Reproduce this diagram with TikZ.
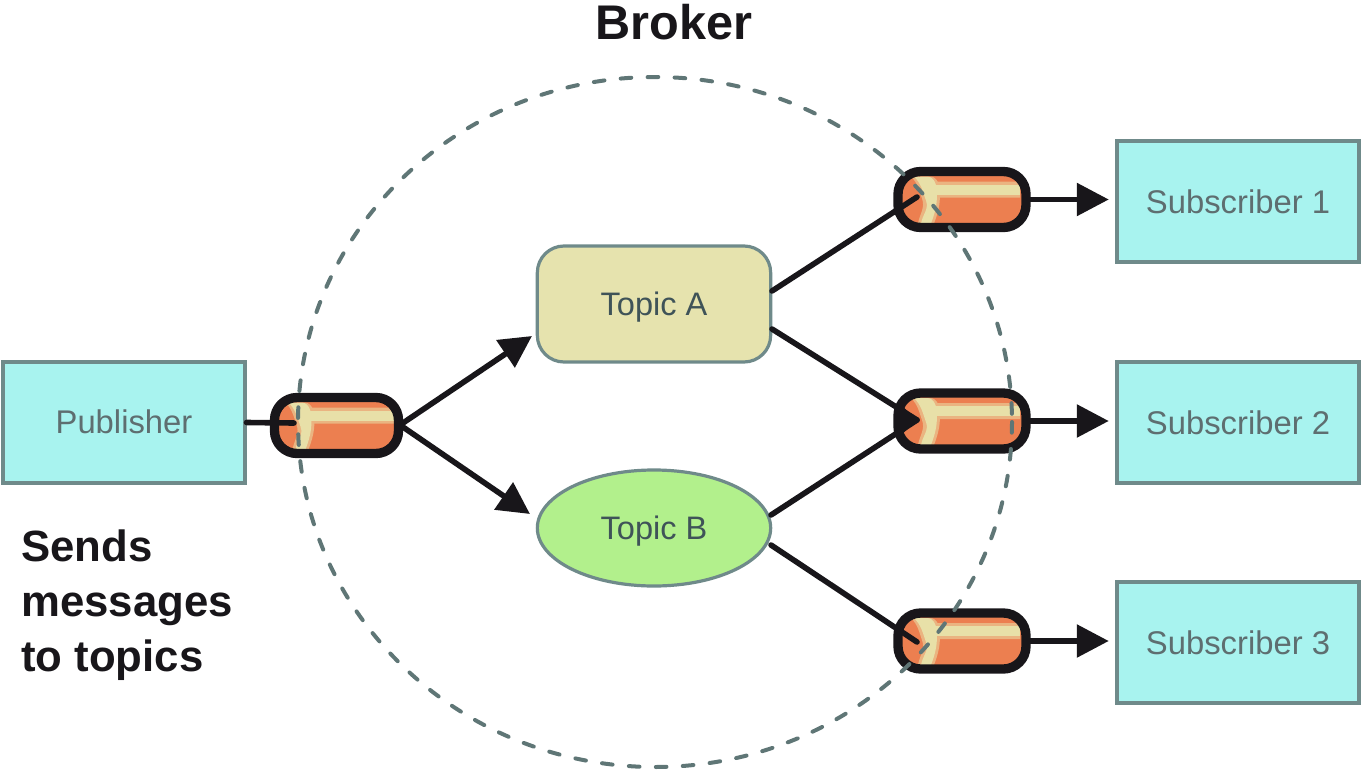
\documentclass[tikz,border=0pt]{standalone}
\usepackage{fontspec}
\setmainfont{Liberation Sans}
\usetikzlibrary{shapes.geometric,arrows.meta}
\definecolor{boxcyan}{HTML}{A8F3EF}
\definecolor{boxedge}{HTML}{6F8A8A}
\definecolor{topica}{HTML}{E6E3AE}
\definecolor{topicb}{HTML}{B2F08C}
\definecolor{capsule}{HTML}{EC7F50}
\definecolor{shine}{HTML}{E8E0A8}
\definecolor{ink}{HTML}{18161A}
\definecolor{dash}{HTML}{5F7676}
\definecolor{lbl}{HTML}{5E6E70}
\definecolor{lbltopic}{HTML}{3F5358}
\newcommand{\lift}[1]{\raisebox{-8.5pt}[0pt][0pt]{#1}}
\newcommand{\liftb}[1]{\raisebox{-9pt}[0pt][0pt]{#1}}
\tikzset{
  x=0.75pt,y=-0.75pt,
  actorbox/.style={draw=boxedge,line width=2.8pt,fill=boxcyan,minimum width=181pt,minimum height=90.5pt,inner sep=0pt,font=\fontsize{24.6pt}{26pt}\selectfont,text=lbl},
  topicshape/.style={draw=boxedge,line width=2.4pt,inner sep=0pt,font=\fontsize{24.4pt}{26pt}\selectfont,text=lbltopic},
  capsulebody/.style={fill=capsule,rounded corners=16pt,minimum height=42pt,inner sep=0pt,outer sep=0pt},
  capsuleedge/.style={draw=ink,line width=7pt,rounded corners=17pt},
  flow/.style={draw=ink,line width=4.2pt,line cap=round},
  flowtip/.style={draw=ink,line width=4.2pt,-{Triangle[length=24pt,width=24pt]}},
  flowend/.style={flowtip,shorten >=5pt},
  heading/.style={font=\bfseries\fontsize{36.5pt}{40pt}\selectfont,text=ink,inner sep=0pt},
  sidenote/.style={font=\bfseries\fontsize{32.8pt}{41.2pt}\selectfont,text=ink,inner sep=0pt,align=left},
  brokerline/.style={draw=dash,line width=3pt,line cap=round,dash pattern=on 8pt off 12.25pt},
}
\newcommand{\capsuleshine}[3]{%
  \fill[capsule!45!shine] (#2-28,#3-18) -- (#2+58,#3-18) -- (#2+58,#3-2) -- (#2-26,#3-2) -- cycle;
  \fill[capsule!45!shine] (#2-51,#3-23) -- (#2-32,#3-23) to[out=0,in=90] (#2-22,#3-6) to[out=-90,in=70] (#2-28,#3+24)
     -- (#2-44,#3+24) to[out=80,in=-70] (#2-40,#3-1) to[out=110,in=-45] cycle;
  \fill[shine] (#2-27,#3-15) -- (#2+58,#3-15) -- (#2+58,#3-5) -- (#2-27,#3-5) -- cycle;
  \fill[shine] (#2-48,#3-23) -- (#2-35,#3-23) to[out=0,in=90] (#2-25,#3-6) to[out=-90,in=70] (#2-31,#3+24)
     -- (#2-41,#3+24) to[out=80,in=-70] (#2-36,#3+1) to[out=110,in=-45] cycle;
  \draw[capsuleedge] (#1.north west) rectangle (#1.south east);
}
\begin{document}
\begin{tikzpicture}
\useasboundingbox (0,0) rectangle (1363,771);
\node[actorbox] (pub) at (124,422.5) {\lift{Publisher}};
\node[actorbox] (s1) at (1238,201.5) {\liftb{Subscriber 1}};
\node[actorbox] (s2) at (1238,422.5) {\liftb{Subscriber 2}};
\node[actorbox] (s3) at (1238,642.5) {\liftb{Subscriber 3}};
\node[topicshape,fill=topica,rounded corners=20pt,minimum width=175pt,minimum height=87pt] (ta) at (654,304) {\lift{Topic A}};
\node[topicshape,fill=topicb,ellipse,minimum width=175pt,minimum height=87pt] (tb) at (654,528) {\lift{Topic B}};

\node[capsulebody,minimum width=93pt] (cp) at (336.5,425.5) {};
\node[capsulebody,minimum width=96pt] (c1) at (962,199.5) {};
\node[capsulebody,minimum width=96pt] (c2) at (962,421) {};
\node[capsulebody,minimum width=96pt] (c3) at (962,641) {};
\capsuleshine{cp}{336.5}{425.5}
\capsuleshine{c1}{962}{199.5}
\capsuleshine{c2}{962}{421}
\capsuleshine{c3}{962}{641}

\coordinate (cpin) at (294,423);
\coordinate (cpout) at (400,425);
\coordinate (c1in) at (917,197);
\coordinate (c2in) at (917,420);
\coordinate (c3in) at (917,642);
\coordinate (taa) at (532,336);
\coordinate (tba) at (530,514);
\coordinate (tar) at (772,291);
\coordinate (tarb) at (772,329);
\coordinate (tbr) at (771,515);
\coordinate (tbrb) at (771,545);

\draw[flow] (pub.east) -- (cpin);
\draw[flowtip] (cpout) -- (taa);
\draw[flowtip] (cpout) -- (tba);
\draw[flow] (tar) -- (c1in);
\draw[flow] (tarb) -- (c2in);
\draw[flow] (tbr) -- (c2in);
\draw[flow] (tbrb) -- (c3in);
\fill[ink] (c2in) -- (898,402) -- (898,438) -- cycle;
\draw[flowend] (c1.east) -- (c1.east -| s1.west);
\draw[flowend] (c2.east) -- (c2.east -| s2.west);
\draw[flowend] (c3.east) -- (c3.east -| s3.west);

\draw[brokerline] (655,422) ellipse [x radius=357,y radius=345];

\node[heading] (broker) at (674,22) {Broker};
\node[sidenote,anchor=north west] (note) at (21,530) {Sends\\messages\\to topics};
\end{tikzpicture}
\end{document}
